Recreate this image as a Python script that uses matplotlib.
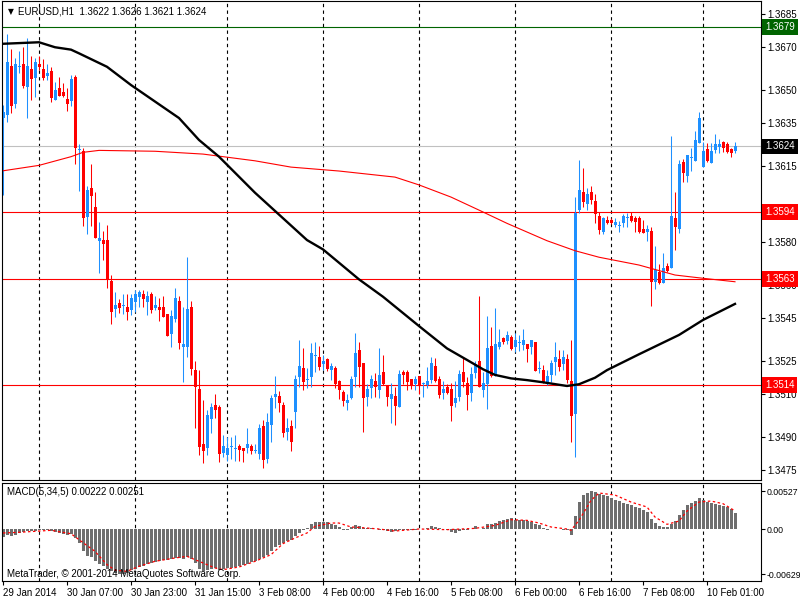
import numpy as np
import matplotlib
matplotlib.use('Agg')
import matplotlib.pyplot as plt
from matplotlib.transforms import blended_transform_factory

plt.rcParams['font.family'] = ['Liberation Sans', 'DejaVu Sans']

# EURUSD H1 candles, 29 Jan 2014 15:00 .. 10 Feb 2014
opens = [
    1.36371, 1.36385, 1.36612, 1.36436, 1.36606, 1.36620, 1.36514, 1.36597,
    1.36557, 1.36620, 1.36598, 1.36566, 1.36587, 1.36455, 1.36511, 1.36491,
    1.36459, 1.36449, 1.36561, 1.36224, 1.36219, 1.35917, 1.36047, 1.35963,
    1.35806, 1.35809, 1.35809, 1.35620, 1.35490, 1.35520, 1.35505, 1.35501,
    1.35487, 1.35524, 1.35548, 1.35561, 1.35524, 1.35561, 1.35497, 1.35501,
    1.35501, 1.35468, 1.35376, 1.35447, 1.35527, 1.35318, 1.35318, 1.35501,
    1.35210, 1.35123, 1.34870, 1.34850, 1.34986, 1.35049, 1.35040, 1.34827,
    1.34819, 1.34857, 1.34845, 1.34860, 1.34850, 1.34850, 1.34860, 1.34838,
    1.34824, 1.34953, 1.34800, 1.34957, 1.35088, 1.35091, 1.35049, 1.34925,
    1.34953, 1.35018, 1.35180, 1.35221, 1.35165, 1.35180, 1.35275, 1.35270,
    1.35238, 1.35261, 1.35210, 1.35221, 1.35161, 1.35109, 1.35060, 1.35080,
    1.35180, 1.35303, 1.35244, 1.35088, 1.35129, 1.35161, 1.35119, 1.35203,
    1.35141, 1.35078, 1.35091, 1.35039, 1.35203, 1.35203, 1.35168, 1.35146,
    1.35183, 1.35146, 1.35141, 1.35165, 1.35229, 1.35168, 1.35106, 1.35134,
    1.35122, 1.35060, 1.35085, 1.35203, 1.35149, 1.35106, 1.35198, 1.35253,
    1.35119, 1.35146, 1.35321, 1.35187, 1.35318, 1.35356, 1.35345, 1.35364,
    1.35318, 1.35335, 1.35326, 1.35330, 1.35318, 1.35339, 1.35215, 1.35210,
    1.35154, 1.35187, 1.35247, 1.35259, 1.35240, 1.35259, 1.35161, 1.35009,
    1.35947, 1.36030, 1.35976, 1.36030, 1.35989, 1.35921, 1.35847, 1.35901,
    1.35901, 1.35877, 1.35874, 1.35889, 1.35909, 1.35921, 1.35912, 1.35909,
    1.35858, 1.35847, 1.35851, 1.35617, 1.35663, 1.35610, 1.35689, 1.35679,
    1.35910, 1.35858, 1.36167, 1.36105, 1.36188, 1.36174, 1.36257, 1.36147,
    1.36227, 1.36165, 1.36224, 1.36236, 1.36259, 1.36250, 1.36227, 1.36220,
]
highs = [
    1.36431, 1.36756, 1.36689, 1.36646, 1.36680, 1.36698, 1.36739, 1.36655,
    1.36649, 1.36658, 1.36641, 1.36618, 1.36607, 1.36538, 1.36560, 1.36531,
    1.36508, 1.36569, 1.36569, 1.36251, 1.36231, 1.36058, 1.36159, 1.36032,
    1.35891, 1.35851, 1.35878, 1.35648, 1.35571, 1.35537, 1.35559, 1.35559,
    1.35561, 1.35579, 1.35579, 1.35579, 1.35576, 1.35568, 1.35551, 1.35542,
    1.35551, 1.35468, 1.35487, 1.35588, 1.35551, 1.35502, 1.35732, 1.35528,
    1.35252, 1.35210, 1.35072, 1.35026, 1.35057, 1.35100, 1.35049, 1.34911,
    1.34903, 1.34903, 1.34911, 1.34870, 1.34850, 1.34942, 1.34870, 1.34870,
    1.34962, 1.34980, 1.35013, 1.35097, 1.35184, 1.35115, 1.35062, 1.34988,
    1.34980, 1.35187, 1.35349, 1.35313, 1.35220, 1.35333, 1.35341, 1.35321,
    1.35280, 1.35264, 1.35242, 1.35229, 1.35165, 1.35119, 1.35100, 1.35183,
    1.35380, 1.35341, 1.35244, 1.35146, 1.35189, 1.35199, 1.35310, 1.35280,
    1.35141, 1.35149, 1.35134, 1.35210, 1.35210, 1.35210, 1.35168, 1.35183,
    1.35183, 1.35157, 1.35223, 1.35272, 1.35264, 1.35183, 1.35161, 1.35146,
    1.35149, 1.35161, 1.35210, 1.35272, 1.35180, 1.35223, 1.35253, 1.35551,
    1.35203, 1.35459, 1.35407, 1.35495, 1.35398, 1.35364, 1.35392, 1.35372,
    1.35382, 1.35372, 1.35399, 1.35330, 1.35349, 1.35339, 1.35252, 1.35233,
    1.35210, 1.35257, 1.35339, 1.35303, 1.35303, 1.35284, 1.35349, 1.36009,
    1.36178, 1.36141, 1.36047, 1.36058, 1.36020, 1.35940, 1.35916, 1.35920,
    1.35910, 1.35910, 1.35898, 1.35929, 1.35932, 1.35937, 1.35921, 1.35920,
    1.35901, 1.35878, 1.35871, 1.35782, 1.35699, 1.35748, 1.35702, 1.36288,
    1.36030, 1.36178, 1.36181, 1.36201, 1.36231, 1.36313, 1.36400, 1.36259,
    1.36254, 1.36254, 1.36297, 1.36273, 1.36265, 1.36259, 1.36234, 1.36260,
]
lows = [
    1.36017, 1.36354, 1.36394, 1.36416, 1.36577, 1.36511, 1.36370, 1.36454,
    1.36469, 1.36592, 1.36546, 1.36546, 1.36443, 1.36454, 1.36471, 1.36469,
    1.36405, 1.36426, 1.36158, 1.36036, 1.35874, 1.35837, 1.35874, 1.35817,
    1.35659, 1.35717, 1.35587, 1.35421, 1.35456, 1.35471, 1.35467, 1.35441,
    1.35464, 1.35479, 1.35502, 1.35499, 1.35464, 1.35474, 1.35487, 1.35436,
    1.35456, 1.35367, 1.35318, 1.35433, 1.35309, 1.35157, 1.35272, 1.35187,
    1.34942, 1.34819, 1.34781, 1.34819, 1.34919, 1.34988, 1.34788, 1.34808,
    1.34793, 1.34803, 1.34793, 1.34793, 1.34788, 1.34827, 1.34822, 1.34827,
    1.34803, 1.34761, 1.34781, 1.34880, 1.35037, 1.35018, 1.34900, 1.34888,
    1.34838, 1.34942, 1.35134, 1.35119, 1.35128, 1.35131, 1.35203, 1.35210,
    1.35210, 1.35206, 1.35165, 1.35129, 1.35076, 1.35046, 1.35026, 1.35076,
    1.35134, 1.35134, 1.34926, 1.35045, 1.35082, 1.35088, 1.35080, 1.35141,
    1.35045, 1.34968, 1.34957, 1.35039, 1.35146, 1.35119, 1.35122, 1.35119,
    1.35100, 1.35088, 1.35126, 1.35153, 1.35157, 1.35080, 1.35078, 1.35100,
    1.34977, 1.35039, 1.35069, 1.35134, 1.35026, 1.35069, 1.35172, 1.35131,
    1.35085, 1.35030, 1.35177, 1.35183, 1.35306, 1.35330, 1.35330, 1.35303,
    1.35295, 1.35299, 1.35301, 1.35247, 1.35284, 1.35206, 1.35198, 1.35149,
    1.35141, 1.35154, 1.35186, 1.35206, 1.35210, 1.35149, 1.34879, 1.34808,
    1.35935, 1.35960, 1.35947, 1.35975, 1.35889, 1.35837, 1.35837, 1.35883,
    1.35883, 1.35868, 1.35847, 1.35868, 1.35868, 1.35892, 1.35847, 1.35840,
    1.35840, 1.35806, 1.35507, 1.35584, 1.35607, 1.35610, 1.35663, 1.35679,
    1.35763, 1.35840, 1.36078, 1.36078, 1.36128, 1.36174, 1.36257, 1.36147,
    1.36167, 1.36165, 1.36212, 1.36212, 1.36216, 1.36208, 1.36190, 1.36210,
]
closes = [
    1.36399, 1.36630, 1.36428, 1.36620, 1.36612, 1.36520, 1.36610, 1.36549,
    1.36629, 1.36607, 1.36557, 1.36580, 1.36465, 1.36500, 1.36474, 1.36474,
    1.36437, 1.36551, 1.36234, 1.36230, 1.35909, 1.36039, 1.36010, 1.35817,
    1.35817, 1.35789, 1.35625, 1.35479, 1.35510, 1.35497, 1.35508, 1.35479,
    1.35542, 1.35561, 1.35570, 1.35536, 1.35551, 1.35487, 1.35510, 1.35487,
    1.35456, 1.35367, 1.35459, 1.35542, 1.35336, 1.35330, 1.35490, 1.35215,
    1.35131, 1.34857, 1.34839, 1.35002, 1.35040, 1.35026, 1.34822, 1.34860,
    1.34850, 1.34860, 1.34850, 1.34842, 1.34839, 1.34870, 1.34839, 1.34842,
    1.34942, 1.34796, 1.34970, 1.35082, 1.35100, 1.35060, 1.34919, 1.34942,
    1.34880, 1.35169, 1.35229, 1.35157, 1.35169, 1.35289, 1.35280, 1.35226,
    1.35253, 1.35215, 1.35229, 1.35146, 1.35120, 1.35069, 1.35072, 1.35169,
    1.35289, 1.35226, 1.35080, 1.35123, 1.35169, 1.35131, 1.35189, 1.35146,
    1.35088, 1.35100, 1.35045, 1.35192, 1.35189, 1.35157, 1.35141, 1.35168,
    1.35141, 1.35150, 1.35161, 1.35244, 1.35161, 1.35095, 1.35123, 1.35106,
    1.35045, 1.35082, 1.35192, 1.35157, 1.35095, 1.35192, 1.35238, 1.35131,
    1.35149, 1.35310, 1.35183, 1.35330, 1.35341, 1.35341, 1.35372, 1.35307,
    1.35349, 1.35339, 1.35349, 1.35307, 1.35349, 1.35206, 1.35220, 1.35157,
    1.35183, 1.35244, 1.35272, 1.35224, 1.35272, 1.35165, 1.35000, 1.35934,
    1.36040, 1.35984, 1.36022, 1.35994, 1.35928, 1.35855, 1.35910, 1.35889,
    1.35889, 1.35892, 1.35877, 1.35920, 1.35912, 1.35898, 1.35894, 1.35847,
    1.35840, 1.35860, 1.35617, 1.35671, 1.35613, 1.35679, 1.35668, 1.35920,
    1.35868, 1.36159, 1.36116, 1.36201, 1.36191, 1.36270, 1.36370, 1.36219,
    1.36174, 1.36219, 1.36250, 1.36251, 1.36234, 1.36216, 1.36208, 1.36240,
]

# moving averages (bar index, price)
ma_black_idx = [0, 9, 13, 17, 19, 26, 32, 44, 49, 54, 63, 76, 80, 89, 95, 104,
                111, 116, 120, 123, 127, 131, 135, 141, 144, 148, 151, 159,
                169, 175, 183]
ma_black_val = [1.36713, 1.36720, 1.36697, 1.36686, 1.36669, 1.36607, 1.36523,
                1.36371, 1.36270, 1.36193, 1.36027, 1.35809, 1.35766, 1.35628,
                1.35548, 1.35413, 1.35310, 1.35257, 1.35214, 1.35188, 1.35172,
                1.35164, 1.35154, 1.35137, 1.35145, 1.35175, 1.35210, 1.35283,
                1.35372, 1.35441, 1.35515]
ma_red_idx = [0, 9, 17, 20, 24, 38, 50, 63, 72, 84, 98, 104, 112, 119, 126,
              136, 143, 149, 159, 168, 175, 183]
ma_red_val = [1.36128, 1.36153, 1.36193, 1.36213, 1.36222, 1.36218, 1.36205,
              1.36174, 1.36145, 1.36127, 1.36099, 1.36063, 1.36007, 1.35947,
              1.35886, 1.35806, 1.35760, 1.35730, 1.35694, 1.35648, 1.35633,
              1.35617]

# MACD(5,34,5) main values, in units of 0.0001
macd_main = [
    -11.5, -7.9, -10.2, -7.9, -5.5, -4.2, -3.2, -3.2, -2.3, -1.8, -0.9, -1.4,
    -2.8, -4.2, -5.5, -6.5, -8.8, -6.5, -12.5, -19.4, -31.0, -37.0, -39.3, -44.8,
    -48.5, -51.7, -55.0, -58.5, -61.5, -62.9, -62.2, -60.5, -57.5, -55.5, -52.7, -50.8,
    -48.0, -47.0, -46.2, -44.8, -43.4, -42.5, -41.6, -39.7, -39.7, -41.6, -38.8, -41.6,
    -47.0, -55.4, -58.7, -57.3, -55.4, -54.5, -56.4, -55.4, -54.5, -53.6, -52.7, -51.7,
    -49.9, -48.0, -46.2, -44.4, -41.6, -38.8, -35.6, -31.0, -25.0, -21.7, -19.4, -17.1,
    -15.7, -10.2, -5.5, -1.8, 1.4, 6.9, 9.7, 9.7, 9.2, 9.2, 7.4, 6.0,
    2.8, -1.8, -0.9, 2.8, 6.0, 3.7, 0.9, 0.9, 0.9, 0.0, -0.9, -1.8,
    -3.2, -4.6, -3.2, -1.8, -1.8, -1.8, -0.9, -0.9, 0.0, 0.0, 1.4, 3.7,
    2.8, 0.9, 0.0, -1.8, -4.6, -5.1, -2.8, -1.8, -0.9, 0.0, 3.7, 0.5,
    1.8, 6.5, 7.4, 8.8, 10.6, 12.9, 14.3, 14.8, 12.9, 12.9, 12.9, 11.1,
    9.7, 7.4, 5.1, 1.8, -0.9, -0.5, 0.0, -0.5, -0.9, -0.9, -8.8, 18.5,
    37.4, 47.1, 50.5, 52.7, 51.5, 48.5, 46.5, 45.3, 43.4, 40.7, 38.8, 36.0,
    34.2, 32.8, 30.5, 29.6, 26.8, 23.6, 14.3, 8.3, 3.7, 2.8, 2.8, 7.4,
    11.1, 18.9, 26.8, 32.8, 36.0, 38.3, 43.4, 39.7, 37.4, 36.0, 35.1, 33.7,
    32.3, 30.5, 28.2, 22.2,
]
signal_idx = [0, 4, 12, 17, 19, 23, 26, 28, 31, 34, 38, 43, 46, 49, 53, 55, 59,
              63, 67, 70, 73, 76, 78, 82, 84, 87, 90, 94, 98, 104, 111, 118,
              123, 127, 131, 134, 137, 141, 142, 144, 147, 149, 153, 157, 161,
              163, 166, 169, 171, 174, 177, 180, 183]
signal_val = [-5.5, -4.6, -1.8, -6.5, -14.8, -31.0, -49.4, -57.0, -58.7, -51.7,
              -44.8, -40.2, -37.9, -44.8, -54.0, -56.4, -52.7, -44.8, -35.6,
              -20.3, -12.5, -5.5, 3.7, 8.3, 8.3, 2.8, 1.8, 0.0, -2.8, 0.0, -0.9,
              0.9, 5.0, 12.9, 12.0, 8.3, 2.8, 0.0, -1.8, 12.0, 39.7, 49.9, 47.1,
              37.4, 30.5, 16.6, 6.5, 11.0, 24.9, 37.4, 38.8, 35.1, 25.1]

level_green = 1.3679
levels_red = [1.3594, 1.3563, 1.3514]
bid_price = 1.3624

price_ticks = [1.3685, 1.3670, 1.3650, 1.3635, 1.3615, 1.3595, 1.3580, 1.3560,
               1.3545, 1.3525, 1.3510, 1.3490, 1.3475]
macd_ticks = [0.00527, 0.0, -0.00629]
macd_tick_labels = ['0.00527', '0.00', '-0.00629']
time_tick_idx = [0, 16, 32, 48, 64, 80, 96, 112, 128, 144, 160, 176]
time_labels = ['29 Jan 2014', '30 Jan 07:00', '30 Jan 23:00', '31 Jan 15:00',
               '3 Feb 08:00', '4 Feb 00:00', '4 Feb 16:00', '5 Feb 08:00',
               '6 Feb 00:00', '6 Feb 16:00', '7 Feb 08:00', '10 Feb 01:00']
grid_idx = [9, 33, 56, 80, 104, 128, 152, 175]

BULL = '#1E90FF'
BEAR = '#FF0000'
FS = 7

o = np.array(opens)
h = np.array(highs)
l = np.array(lows)
c = np.array(closes)
x = np.arange(len(o))
cols = np.where(c >= o, BULL, BEAR)

fig = plt.figure(figsize=(8, 6), dpi=100)
ax = fig.add_axes([2 / 800, 120 / 600, 759 / 800, 479 / 600])
ax2 = fig.add_axes([2 / 800, 19 / 600, 759 / 800, 98 / 600])

for a in (ax, ax2):
    a.set_xlim(-0.25, 189.5)
    for g in grid_idx:
        a.axvline(g, color='black', lw=0.8, ls=(0, (3, 3)), zorder=1)
    for s in a.spines.values():
        s.set_linewidth(0.8)
    a.yaxis.tick_right()
    a.tick_params(axis='y', direction='out', length=3, width=0.8, pad=1.5,
                  labelsize=FS)

# price panel
ax.set_ylim(1.34704, 1.36910)
ax.axhline(bid_price, color='#C0C0C0', lw=0.8, zorder=1.5)
ax.axhline(level_green, color='#006400', lw=0.8, zorder=1.5)
for lv in levels_red:
    ax.axhline(lv, color='red', lw=0.8, zorder=1.5)

ax.vlines(x, l, h, colors=cols, lw=0.75, zorder=2)
body = np.maximum(np.abs(c - o), 0.00004)
ax.bar(x, body, bottom=np.minimum(o, c), width=0.75, color=cols,
       linewidth=0, zorder=2)

ax.plot(ma_red_idx, ma_red_val, color='red', lw=0.8, zorder=2.2)
ax.plot(ma_black_idx, ma_black_val, color='black', lw=1.7, zorder=2.2)

ax.set_xticks([])
ax.set_yticks(price_ticks)
ax.set_yticklabels(['%.4f' % t for t in price_ticks])

trans = blended_transform_factory(ax.transAxes, ax.transData)
boxes = [(level_green, '#006400'), (bid_price, 'black')] + \
        [(lv, 'red') for lv in levels_red]
for lv, fc in boxes:
    ax.text(1.0 + 4 / 759, lv, '%.4f' % lv, transform=trans, color='white',
            fontsize=FS, va='center', ha='left', clip_on=False, zorder=5,
            bbox=dict(boxstyle='square,pad=0.3', fc=fc, ec='none'))

ax.text(0.0112, 0.979, '\u25bc', transform=ax.transAxes, fontsize=5.5,
        family='DejaVu Sans', va='center', ha='center')
ax.text(0.021, 0.979, 'EURUSD,H1  %.4f %.4f %.4f %.4f' % (o[-1], h[-1], l[-1], c[-1]),
        transform=ax.transAxes, fontsize=FS, va='center', ha='left')

# MACD panel
hist = np.array(macd_main) * 1e-4
ax2.set_ylim(-0.00721, 0.00638)
ax2.bar(x, hist, width=0.75, color='#6E6E6E', linewidth=0, zorder=2)
ax2.plot(signal_idx, np.array(signal_val) * 1e-4, color='red', lw=0.9,
         ls=(0, (2, 2)), zorder=3)
ax2.set_yticks(macd_ticks)
ax2.set_yticklabels(macd_tick_labels)
ax2.tick_params(axis='y', labelsize=6.3, pad=1)
ax2.set_xticks(time_tick_idx)
ax2.set_xticklabels(time_labels)
for lab in ax2.get_xticklabels():
    lab.set_ha('left')
ax2.tick_params(axis='x', direction='out', length=3, width=0.8, pad=2,
                labelsize=FS)
ax2.text(5 / 759, 0.905, 'MACD(5,34,5) %.5f %.5f' % (hist[-1], signal_val[-1] * 1e-4),
         transform=ax2.transAxes, fontsize=FS, va='center', ha='left')
ax2.text(5 / 759, 0.07, 'MetaTrader, \u00a9 2001-2014 MetaQuotes Software Corp.',
         transform=ax2.transAxes, fontsize=FS, va='center', ha='left', zorder=4)

fig.savefig('out.png', dpi=100)
